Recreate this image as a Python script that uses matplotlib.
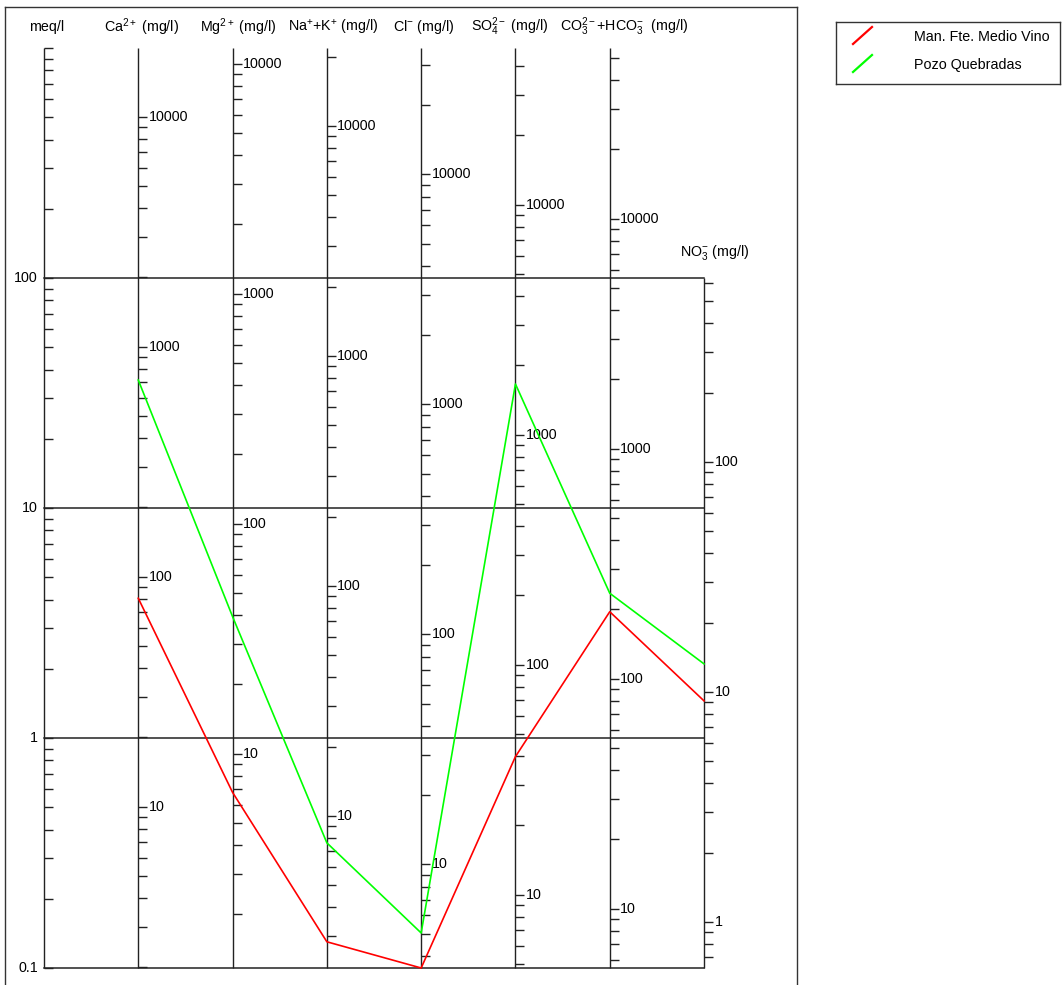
import numpy as np
import matplotlib.pyplot as plt

plt.rcParams['font.family'] = ['Liberation Sans', 'DejaVu Sans']
plt.rcParams['mathtext.fontset'] = 'custom'
plt.rcParams['mathtext.rm'] = 'Liberation Sans'
plt.rcParams['mathtext.it'] = 'Liberation Sans'
plt.rcParams['mathtext.default'] = 'regular'

dpi = 100

# Ion columns of the Schoeller diagram (mg/l scales next to the meq/l axis)
ions = [r"Ca$^{2+}$ (mg/l)", r"Mg$^{2+}$ (mg/l)", r"Na$^{+}$+K$^{+}$ (mg/l)",
        r"Cl$^{-}$ (mg/l)", r"SO$_4^{2-}$ (mg/l)", r"CO$_3^{2-}$+HCO$_3^{-}$  (mg/l)",
        r"NO$_3^{-}$ (mg/l)"]
eq_weights = [19.9, 11.7, 21.8, 35.4, 48.0, 55.2, 6.3]   # mg per meq on each scale
ion_top = [1000, 1000, 1000, 1000, 1000, 1000, 100]      # meq/l at top of each column

# Samples, in meq/l
samples = ["Man. Fte. Medio Vino", "Pozo Quebradas"]
colors = ["#ff0000", "#00ff00"]
medio_vino = [4.05, 0.58, 0.13, 0.10, 0.83, 3.54, 1.45]
quebradas = [36.0, 3.37, 0.35, 0.142, 34.6, 4.26, 2.10]

meq_labels = [0.1, 1, 10, 100]

# pixel helpers: column spacing and decade height
col_px = 94.29
dec_px = 230.0
tl = 9 / col_px  # tick length in x units

fig = plt.figure(figsize=(10.62, 9.85), dpi=dpi)
ax = fig.add_axes([5 / 1062, 0, 792 / 1062, 978 / 985])
ax.set_yscale('log')
ax.set_xlim((5 - 44) / col_px, (797 - 44) / col_px)
ax.set_ylim(10 ** ((968 - 985) / dec_px - 1), 10 ** ((968 - 7) / dec_px - 1))
ax.set_xticks([])
ax.set_yticks([])
ax.set_yticks([], minor=True)
ax.spines['bottom'].set_visible(False)
for s in ['left', 'top', 'right']:
    ax.spines[s].set_color('#333333')
    ax.spines[s].set_linewidth(1.0)

axis_kw = dict(color='#222222', lw=1.0, solid_capstyle='butt', zorder=2)
fs = 10.3

# meq/l axis
ax.plot([0, 0], [0.1, 1000], **axis_kw)
for n in range(-1, 3):
    for k in range(1, 10):
        v = k * 10.0 ** n
        ax.plot([0, tl], [v, v], **axis_kw)
ax.plot([0, tl], [1000, 1000], **axis_kw)
for v in meq_labels:
    ax.text(-6 / col_px, v, f"{v:g}", ha='right', va='center', fontsize=fs)
ax.text(3 / col_px, 10 ** ((968 - 27) / dec_px - 1), "meq/l", ha='center', va='center', fontsize=fs)

# decade grid lines
for v in meq_labels:
    ax.plot([0, 7], [v, v], color='#222222', lw=1.1, zorder=2)

# ion axes
head_dx = [3.5, 5.5, 6, 3, -5.5, 15, 11]
for i, (name, w, top) in enumerate(zip(ions, eq_weights, ion_top)):
    x = i + 1
    ax.plot([x, x], [0.1, top], **axis_kw)
    for n in range(-1, 6):
        for k in range(1, 10):
            mg = k * 10.0 ** n
            v = mg / w
            if 0.1 * 0.999 <= v <= top * 1.001:
                ax.plot([x, x + tl], [v, v], **axis_kw)
                if k == 1:
                    ax.text(x + 10.5 / col_px, v, f"{mg:g}", ha='left', va='center', fontsize=fs)
    hy = 10 ** ((968 - 27) / dec_px - 1) if top == 1000 else 10 ** ((968 - 253) / dec_px - 1)
    ax.text(x + head_dx[i] / col_px, hy, name, ha='center', va='center', fontsize=fs)

# sample lines
xs = np.arange(1, 8)
for vals, c in zip([medio_vino, quebradas], colors):
    ax.plot(xs, vals, color=c, lw=1.2, zorder=3)

# legend box
lax = fig.add_axes([836 / 1062, 1 - 84 / 985, 224 / 1062, 62 / 985])
lax.set_xlim(0, 224)
lax.set_ylim(62, 0)
lax.set_xticks([])
lax.set_yticks([])
for s in lax.spines.values():
    s.set_color('#333333')
    s.set_linewidth(1.0)
for j, (name, c) in enumerate(zip(samples, colors)):
    y0 = 15 + 28 * j
    lax.plot([17, 36], [y0 + 7, y0 - 10], color=c, lw=1.6)
    lax.text(78, y0, name, ha='left', va='center', fontsize=fs)

fig.savefig("out.png", dpi=dpi)
